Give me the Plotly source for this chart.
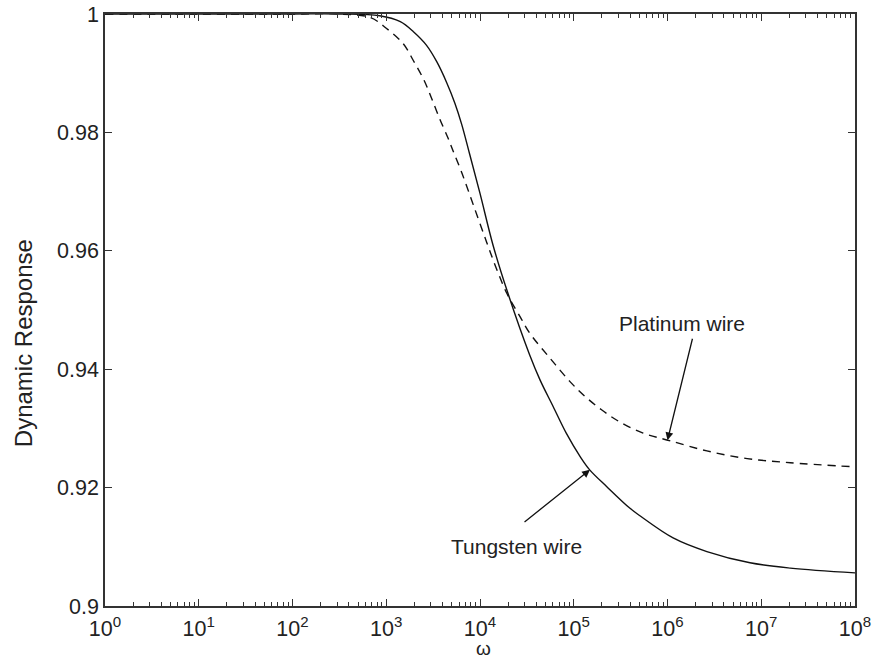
import plotly.graph_objects as go

# log10(omega) positions
log_omega_tungsten = [0, 1, 2, 2.5, 2.93, 3.15, 3.29, 3.43, 3.54, 3.645, 3.733, 3.804,
                      3.89, 4.0, 4.14, 4.29, 4.53, 4.64, 4.78, 4.92, 5.07, 5.17, 5.35,
                      5.6, 5.71, 6.06, 6.42, 6.88, 7.31, 8.0]
response_tungsten = [1.0, 1.0, 1.0, 1.0, 0.9997, 0.9987, 0.9970, 0.9947, 0.9919, 0.9884,
                     0.9849, 0.9814, 0.9763, 0.9697, 0.9609, 0.9532, 0.9424, 0.9382,
                     0.9337, 0.9292, 0.9252, 0.9230, 0.9202, 0.9165, 0.9152, 0.9115,
                     0.9092, 0.9073, 0.9064, 0.9056]

log_omega_platinum = [0, 1, 2, 2.5, 2.83, 3.0, 3.18, 3.29, 3.40, 3.48, 3.57, 3.66, 3.71,
                      3.81, 3.93, 4.07, 4.18, 4.29, 4.43, 4.53, 4.75, 4.96, 5.12, 5.30,
                      5.49, 5.74, 6.03, 6.42, 6.85, 7.31, 8.0]
response_platinum = [1.0, 1.0, 1.0, 1.0, 0.9994, 0.9976, 0.9950, 0.9921, 0.9889, 0.9859,
                     0.9823, 0.9790, 0.9770, 0.9730, 0.9677, 0.9615, 0.9568, 0.9527,
                     0.9488, 0.9461, 0.9418, 0.9379, 0.9354, 0.9331, 0.9311, 0.9292,
                     0.9279, 0.9262, 0.9249, 0.9242, 0.9235]

x_tick_exponents = [0, 1, 2, 3, 4, 5, 6, 7, 8]
y_tick_values = [0.9, 0.92, 0.94, 0.96, 0.98, 1.0]
y_tick_labels = ["0.9", "0.92", "0.94", "0.96", "0.98", "1"]

omega_tungsten = [10 ** e for e in log_omega_tungsten]
omega_platinum = [10 ** e for e in log_omega_platinum]
x_tick_vals = [10 ** e for e in x_tick_exponents]
x_tick_text = ["10<sup>%d</sup>" % e for e in x_tick_exponents]
minor_vals = [m * 10 ** e for e in x_tick_exponents[:-1] for m in range(2, 10)]

FONT = "Liberation Sans, Arial, sans-serif"
TXT = "#222222"
AX = "#333333"

fig = go.Figure()
fig.add_trace(go.Scatter(x=omega_tungsten, y=response_tungsten, mode="lines",
                         line=dict(color="#111111", width=1.4, shape="spline", smoothing=1.0),
                         name="Tungsten wire", showlegend=False))
fig.add_trace(go.Scatter(x=omega_platinum, y=response_platinum, mode="lines",
                         line=dict(color="#111111", width=1.4, dash="8px,6px",
                                   shape="spline", smoothing=1.0),
                         name="Platinum wire", showlegend=False))

fig.update_layout(
    width=872, height=661,
    margin=dict(l=105, r=17, t=14, b=55, autoexpand=False),
    paper_bgcolor="white", plot_bgcolor="white",
    font=dict(family=FONT, size=21, color=TXT),
    showlegend=False,
)
fig.update_xaxes(
    type="log", range=[0, 8], automargin=False,
    tickmode="array", tickvals=x_tick_vals, ticktext=x_tick_text,
    ticks="inside", ticklen=7, tickwidth=1.2, tickcolor=AX,
    showline=True, linecolor=AX, linewidth=1.5, mirror="allticks",
    showgrid=False, zeroline=False, ticklabelstandoff=2,
    minor=dict(tickmode="array", tickvals=minor_vals, ticks="inside",
               ticklen=4, tickwidth=1, tickcolor=AX, showgrid=False),
    tickfont=dict(size=21.5, color=TXT),
)
fig.update_yaxes(
    range=[0.9, 1.0], automargin=False,
    tickmode="array", tickvals=y_tick_values, ticktext=y_tick_labels,
    ticks="inside", ticklen=7, tickwidth=1.2, tickcolor=AX,
    showline=True, linecolor=AX, linewidth=1.5, mirror="allticks",
    showgrid=False, zeroline=False,
    tickfont=dict(size=21.5, color=TXT),
)

# axis titles
fig.add_annotation(text="Dynamic Response", xref="paper", yref="paper",
                   x=-0.1093, y=0.444, xanchor="center", yanchor="middle",
                   textangle=-90, showarrow=False, font=dict(size=24, color=TXT))
fig.add_annotation(text="ω", xref="paper", yref="paper", x=0.504, y=-0.0925,
                   xanchor="center", yanchor="bottom", showarrow=False,
                   font=dict(size=19, color=TXT))

# labels with arrows
fig.add_annotation(text="Platinum wire", x=6.155, y=0.9478, xref="x", yref="y",
                   showarrow=False, font=dict(size=21, color=TXT))
fig.add_annotation(text="", x=6.0, y=0.928, ax=6.27, ay=0.9454, xref="x", yref="y",
                   axref="x", ayref="y", showarrow=True, arrowhead=2, arrowsize=1.2,
                   arrowwidth=1.3, arrowcolor="#111111")
fig.add_annotation(text="Tungsten wire", x=4.384, y=0.9100, xref="x", yref="y",
                   showarrow=False, font=dict(size=21, color=TXT))
fig.add_annotation(text="", x=5.173, y=0.9230, ax=4.459, ay=0.9140, xref="x", yref="y",
                   axref="x", ayref="y", showarrow=True, arrowhead=2, arrowsize=1.2,
                   arrowwidth=1.3, arrowcolor="#111111")

fig.write_html("out.html", config={"displayModeBar": False},
               post_script="document.body.style.margin='0px';"
                           "document.body.style.overflow='hidden';")
